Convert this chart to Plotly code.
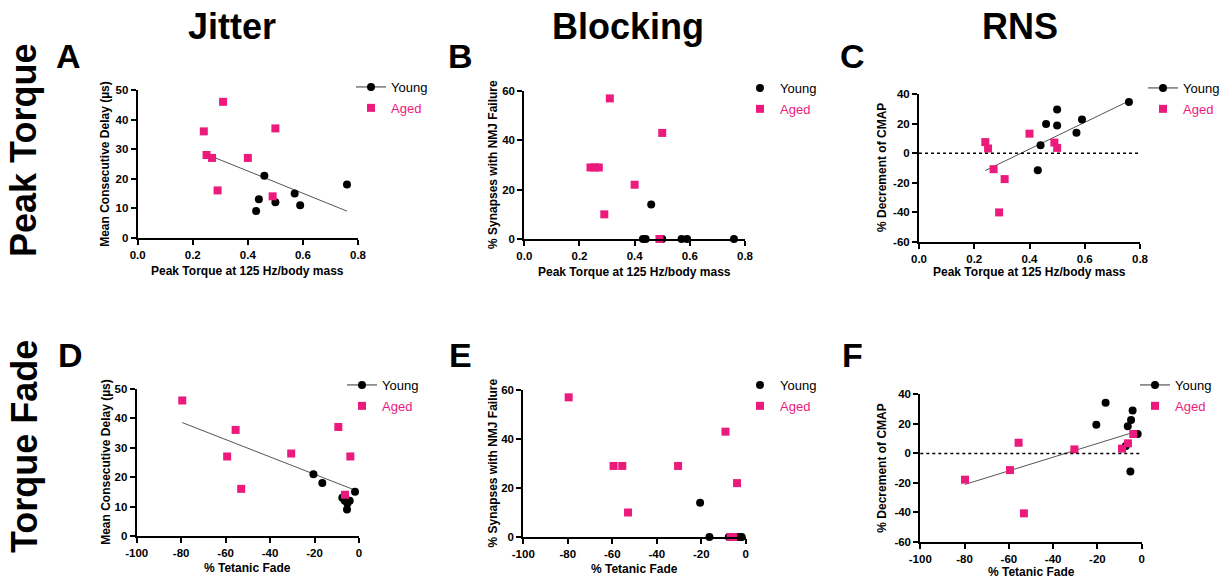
import plotly.graph_objects as go

W, H = 1231, 581
PINK = "#EC1A7C"
FONT = "Arial, Liberation Sans, sans-serif"

# ---------------- data ----------------
# A: Jitter vs peak torque
young_torque_A = [0.43, 0.44, 0.46, 0.50, 0.57, 0.59, 0.76]
young_jitter_A = [9, 13, 21, 12, 15, 11, 18]
aged_torque_A = [0.24, 0.25, 0.27, 0.29, 0.31, 0.40, 0.49, 0.50]
aged_jitter_A = [36, 28, 27, 16, 46, 27, 14, 37]
fit_x_A = [0.24, 0.76]
fit_y_A = [28.6, 9.0]

# B: Blocking vs peak torque
young_torque_B = [0.43, 0.44, 0.46, 0.50, 0.57, 0.59, 0.76]
young_block_B = [0, 0, 14, 0, 0, 0, 0]
aged_torque_B = [0.24, 0.255, 0.27, 0.29, 0.31, 0.40, 0.49, 0.50]
aged_block_B = [29, 29, 29, 10, 57, 22, 0, 43]

# C: RNS vs peak torque
young_torque_C = [0.43, 0.44, 0.46, 0.50, 0.50, 0.57, 0.59, 0.76]
young_rns_C = [-11.5, 5.4, 19.8, 29.5, 18.7, 13.9, 22.7, 34.6]
aged_torque_C = [0.24, 0.25, 0.27, 0.29, 0.31, 0.40, 0.49, 0.50]
aged_rns_C = [7.5, 3.2, -10.8, -40.0, -17.5, 13.2, 7.2, 3.6]
fit_x_C = [0.24, 0.76]
fit_y_C = [-11.7, 35.3]

# D: Jitter vs tetanic fade
young_fade_D = [-20.5, -16.5, -1.8, -7.5, -6.4, -5.2, -4.2, -5.4]
young_jitter_D = [21, 18, 15, 13, 12, 11, 12, 9]
aged_fade_D = [-79.5, -55.5, -59.3, -53.0, -30.5, -9.3, -6.3, -3.9]
aged_jitter_D = [46, 36, 27, 16, 28, 37, 14, 27]
fit_x_D = [-79.5, -1.9]
fit_y_D = [38.5, 15.6]

# E: Blocking vs tetanic fade
young_fade_E = [-20.5, -16.3, -7.6, -6.0, -4.0, -2.6, -1.8]
young_block_E = [14, 0, 0, 0, 0, 0, 0]
aged_fade_E = [-79.6, -59.4, -55.5, -52.9, -30.4, -9.1, -3.9, -6.8, -5.6]
aged_block_E = [57, 29, 29, 10, 29, 43, 22, 0, 0]

# F: RNS vs tetanic fade
young_fade_F = [-20.5, -16.3, -6.3, -4.8, -4.1, -1.8, -5.1, -7.2]
young_rns_F = [19.4, 34.3, 18.3, 22.6, 29.1, 13.1, -12.2, 5.0]
aged_fade_F = [-79.8, -59.5, -55.6, -53.2, -30.4, -8.9, -6.2, -3.8]
aged_rns_F = [-17.8, -11.3, 7.2, -40.6, 2.7, 3.2, 6.8, 13.1]
fit_x_F = [-79.8, -2.3]
fit_y_F = [-21.0, 14.9]

# tick values / labels
torque_ticks = [0.0, 0.2, 0.4, 0.6, 0.8]
torque_labels = ["0.0", "0.2", "0.4", "0.6", "0.8"]
fade_ticks = [-100, -80, -60, -40, -20, 0]
fade_labels = ["-100", "-80", "-60", "-40", "-20", "0"]
jitter_ticks = [0, 10, 20, 30, 40, 50]
jitter_labels = ["0", "10", "20", "30", "40", "50"]
block_ticks = [0, 20, 40, 60]
block_labels = ["0", "20", "40", "60"]
rns_ticks = [-60, -40, -20, 0, 20, 40]
rns_labels = ["-60", "-40", "-20", "0", "20", "40"]

col_titles = ["Jitter", "Blocking", "RNS"]
row_titles = ["Peak Torque", "Torque Fade"]
panel_letters = ["A", "B", "C", "D", "E", "F"]
xtitle_torque = "Peak Torque at 125 Hz/body mass"
xtitle_fade = "% Tetanic Fade"
ytitles = ["Mean Consecutive Delay (µs)", "% Synapses with NMJ Failure", "% Decrement of CMAP"]

# ---------------- layout helpers ----------------
def fx(p):
    return p / W

def fy(p):
    return 1 - p / H

# pixel boxes of each plot area: (left, right, top, bottom)
boxes = [
    (137.7, 358.0, 90.0, 237.7),
    (524.3, 745.0, 91.0, 239.0),
    (919.0, 1140.0, 94.0, 242.0),
    (136.7, 359.0, 388.7, 536.0),
    (523.3, 745.7, 390.0, 537.0),
    (920.3, 1141.7, 394.3, 542.0),
]
# legend positions (left px, top px)
legend_pos = [(351, 72), (740, 73), (1143, 73), (342, 370), (740, 370), (1135, 370)]
# axis title positions: x-title centre y, y-title centre x
xtitle_y = [271, 272, 272, 568, 569, 572]
ytitle_x = [105, 493, 882, 106.5, 492, 882.5]

panels = [
    dict(yx=young_torque_A, yy=young_jitter_A, ax=aged_torque_A, ay=aged_jitter_A, fx=fit_x_A, fy=fit_y_A,
         xr=[0, 0.8], xtv=torque_ticks, xtt=torque_labels, yr=[0, 50], ytv=jitter_ticks, ytt=jitter_labels,
         xt=xtitle_torque, yt=ytitles[0], zero=False),
    dict(yx=young_torque_B, yy=young_block_B, ax=aged_torque_B, ay=aged_block_B, fx=None, fy=None,
         xr=[0, 0.8], xtv=torque_ticks, xtt=torque_labels, yr=[0, 60], ytv=block_ticks, ytt=block_labels,
         xt=xtitle_torque, yt=ytitles[1], zero=False),
    dict(yx=young_torque_C, yy=young_rns_C, ax=aged_torque_C, ay=aged_rns_C, fx=fit_x_C, fy=fit_y_C,
         xr=[0, 0.8], xtv=torque_ticks, xtt=torque_labels, yr=[-60, 40], ytv=rns_ticks, ytt=rns_labels,
         xt=xtitle_torque, yt=ytitles[2], zero=True),
    dict(yx=young_fade_D, yy=young_jitter_D, ax=aged_fade_D, ay=aged_jitter_D, fx=fit_x_D, fy=fit_y_D,
         xr=[-100, 0], xtv=fade_ticks, xtt=fade_labels, yr=[0, 50], ytv=jitter_ticks, ytt=jitter_labels,
         xt=xtitle_fade, yt=ytitles[0], zero=False),
    dict(yx=young_fade_E, yy=young_block_E, ax=aged_fade_E, ay=aged_block_E, fx=None, fy=None,
         xr=[-100, 0], xtv=fade_ticks, xtt=fade_labels, yr=[0, 60], ytv=block_ticks, ytt=block_labels,
         xt=xtitle_fade, yt=ytitles[1], zero=False),
    dict(yx=young_fade_F, yy=young_rns_F, ax=aged_fade_F, ay=aged_rns_F, fx=fit_x_F, fy=fit_y_F,
         xr=[-100, 0], xtv=fade_ticks, xtt=fade_labels, yr=[-60, 40], ytv=rns_ticks, ytt=rns_labels,
         xt=xtitle_fade, yt=ytitles[2], zero=True),
]

fig = go.Figure()
layout = dict(
    width=W, height=H, margin=dict(l=0, r=0, t=0, b=0, autoexpand=False),
    paper_bgcolor="white", plot_bgcolor="white", showlegend=True,
    font=dict(family=FONT, color="black"),
)
shapes = []
annotations = []

tickfont = dict(family=FONT, size=11.5, color="black", weight="bold")
titlefont = dict(family=FONT, size=12, color="black", weight="bold")

for i, p in enumerate(panels):
    n = i + 1
    xa = "x" if n == 1 else f"x{n}"
    ya = "y" if n == 1 else f"y{n}"
    lg = "legend" if n == 1 else f"legend{n}"
    l, r, t, b = boxes[i]
    layout["xaxis" if n == 1 else f"xaxis{n}"] = dict(
        domain=[fx(l), fx(r)], range=p["xr"], tickmode="array", tickvals=p["xtv"], ticktext=p["xtt"],
        anchor=ya, showline=True, linecolor="black", linewidth=2, ticks="outside", ticklen=5,
        tickwidth=1.5, tickcolor="black", showgrid=False, zeroline=False, tickfont=tickfont,
        fixedrange=True, automargin=False,
    )
    layout["yaxis" if n == 1 else f"yaxis{n}"] = dict(
        domain=[fy(b), fy(t)], range=p["yr"], tickmode="array", tickvals=p["ytv"], ticktext=p["ytt"],
        anchor=xa, showline=True, linecolor="black", linewidth=2, ticks="outside", ticklen=5,
        tickwidth=1.5, tickcolor="black", showgrid=False, zeroline=False, tickfont=tickfont,
        fixedrange=True, automargin=False,
    )
    # axis titles
    annotations.append(dict(text=p["xt"], x=fx((l + r) / 2), y=fy(xtitle_y[i]), xref="paper", yref="paper",
                            showarrow=False, xanchor="center", yanchor="middle", font=titlefont))
    annotations.append(dict(text=p["yt"], x=fx(ytitle_x[i]), y=fy((t + b) / 2), xref="paper", yref="paper",
                            showarrow=False, xanchor="center", yanchor="middle", textangle=-90,
                            font=titlefont))

    lx, ly = legend_pos[i]
    layout[lg] = dict(x=fx(lx), y=fy(ly), xanchor="left", yanchor="top", bgcolor="rgba(0,0,0,0)",
                      font=dict(family=FONT, size=13, color="black"), traceorder="grouped",
                      tracegroupgap=1, borderwidth=0)

    if p["zero"]:
        shapes.append(dict(type="line", xref=f"{xa} domain", yref=ya, x0=0, x1=1, y0=0, y1=0,
                           line=dict(color="black", width=1.5, dash="dot")))

    has_fit = p["fx"] is not None
    if has_fit:
        fig.add_trace(go.Scatter(x=p["fx"], y=p["fy"], mode="lines", xaxis=xa, yaxis=ya,
                                 line=dict(color="#555555", width=1), showlegend=False,
                                 hoverinfo="skip"))
    fig.add_trace(go.Scatter(x=p["yx"], y=p["yy"], mode="markers", xaxis=xa, yaxis=ya,
                             name="Young", legend=lg, legendgroup=f"young{n}",
                             showlegend=not has_fit, cliponaxis=False,
                             marker=dict(symbol="circle", size=8, color="black")))
    if has_fit:
        fig.add_trace(go.Scatter(x=[None], y=[None], mode="lines+markers", xaxis=xa, yaxis=ya,
                                 name="Young", legend=lg, legendgroup=f"young{n}", showlegend=True,
                                 line=dict(color="#333333", width=1),
                                 marker=dict(symbol="circle", size=8, color="black")))
    fig.add_trace(go.Scatter(x=p["ax"], y=p["ay"], mode="markers", xaxis=xa, yaxis=ya,
                             name=f"<span style='color:{PINK}'>Aged</span>", legend=lg,
                             legendgroup=f"aged{n}", cliponaxis=False,
                             marker=dict(symbol="square", size=8, color=PINK)))

# column titles
for txt, cx in zip(col_titles, [232, 628, 1020]):
    annotations.append(dict(text=txt, x=fx(cx), y=fy(27), xref="paper", yref="paper",
                            showarrow=False, xanchor="center", yanchor="middle",
                            font=dict(family=FONT, size=36, color="black", weight="bold")))
# row titles
for txt, cy in zip(row_titles, [151, 447]):
    annotations.append(dict(text=txt, x=fx(24), y=fy(cy), xref="paper", yref="paper",
                            showarrow=False, xanchor="center", yanchor="middle", textangle=-90,
                            font=dict(family=FONT, size=36, color="black", weight="bold")))
# panel letters
letter_pos = [(68, 56), (460, 56), (852, 56), (70, 355), (460, 355), (852, 355)]
for txt, (px_, py_) in zip(panel_letters, letter_pos):
    annotations.append(dict(text=txt, x=fx(px_), y=fy(py_), xref="paper", yref="paper",
                            showarrow=False, xanchor="center", yanchor="middle",
                            font=dict(family=FONT, size=34, color="black", weight="bold")))

layout["shapes"] = shapes
layout["annotations"] = annotations
fig.update_layout(**layout)
fig.write_html("out.html", config={"displayModeBar": False},
               post_script="document.body.style.margin='0';")
